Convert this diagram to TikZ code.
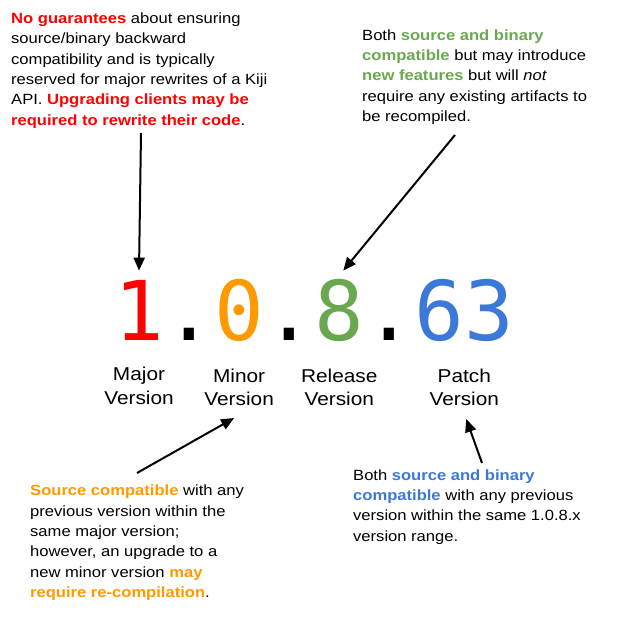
\documentclass[tikz,border=0pt]{standalone}
\usepackage{fontspec}
\setmainfont{Liberation Sans}[FakeStretch=1.12]
\newfontfamily\digitfont{DejaVu Sans Mono}
\usetikzlibrary{arrows.meta, positioning, calc}

\definecolor{kijired}{HTML}{FF0000}
\definecolor{kijiorange}{HTML}{FF9900}
\definecolor{kijigreen}{HTML}{6AA84F}
\definecolor{kijiblue}{HTML}{3C78D8}

\newcommand{\hilite}[2]{\textcolor{#1}{\textbf{#2}}}

\begin{document}
\begin{tikzpicture}[
  x=1pt, y=-1pt,
  %% Text styles
  note/.style   ={inner sep=0pt, anchor=north west, align=left,
                  font=\fontsize{14.8}{20.3}\selectfont},
  digit/.style  ={inner sep=0pt, font=\digitfont\fontsize{82.5}{90}\selectfont},
  vlabel/.style ={inner sep=0pt, align=center, anchor=north,
                  font=\fontsize{18.6}{23.6}\selectfont},
  %% Arrows
  arr/.style    ={-{Triangle[length=13pt, width=11pt]}, line width=2pt}
]
\useasboundingbox (0,0) rectangle (622,620);

%% ── VERSION NUMBER ──────────────────────────────────────────
\node[digit, anchor=base, text=kijired]    (major)   at (139,341) {1};
\node[digit, base right=0pt of major]      (dotA)    {.};
\node[digit, base right=0pt of dotA, text=kijiorange] (minor)   {0};
\node[digit, base right=0pt of minor]      (dotB)    {.};
\node[digit, base right=0pt of dotB, text=kijigreen]  (release) {8};
\node[digit, base right=0pt of release]    (dotC)    {.};
\node[digit, base right=0pt of dotC, text=kijiblue]   (patch)   {63};

%% ── LABELS ──────────────────────────────────────────────────
\node[vlabel, below=26pt of major]   (majlbl) {Major\\Version};
\node[vlabel, below=26pt of minor]   (minlbl) {Minor\\Version};
\node[vlabel, below=26pt of release] (rellbl) {Release\\Version};
\node[vlabel, below=26pt of patch]   (patlbl) {Patch\\Version};

%% ── NOTES ───────────────────────────────────────────────────
\node[note] (majnote) at (11,12.7)
  {\hilite{kijired}{No guarantees} about ensuring\\
   source/binary backward\\
   compatibility and is typically\\
   reserved for major rewrites of a Kiji\\
   API. \hilite{kijired}{Upgrading clients may be}\\
   \hilite{kijired}{required to rewrite their code}.};

\node[note] (relnote) at (362,29.3)
  {Both \hilite{kijigreen}{source and binary}\\
   \hilite{kijigreen}{compatible} but may introduce\\
   \hilite{kijigreen}{new features} but will \textit{not}\\
   require any existing artifacts to\\
   be recompiled.};

\node[note] (minnote) at (30,485)
  {\hilite{kijiorange}{Source compatible} with any\\
   previous version within the\\
   same major version;\\
   however, an upgrade to a\\
   new minor version \hilite{kijiorange}{may}\\
   \hilite{kijiorange}{require re-compilation}.};

\node[note] (patnote) at (353,469.3)
  {Both \hilite{kijiblue}{source and binary}\\
   \hilite{kijiblue}{compatible} with any previous\\
   version within the same 1.0.8.x\\
   version range.};

%% ── ARROWS ──────────────────────────────────────────────────
\coordinate (majfrom) at (141,133);
\coordinate (relfrom) at (455,135);
\coordinate (minfrom) at (137,473);
\coordinate (patfrom) at (482,463);

\draw[arr] (majfrom) -- ([yshift=10pt]major.north);
\draw[arr] (relfrom) -- ([xshift=4pt, yshift=9pt]release.north);
\draw[arr] (minfrom) -- ([xshift=-5pt, yshift=-12pt]minlbl.south);
\draw[arr] (patfrom) -- ([xshift=2pt, yshift=-13pt]patlbl.south);

\end{tikzpicture}
\end{document}
